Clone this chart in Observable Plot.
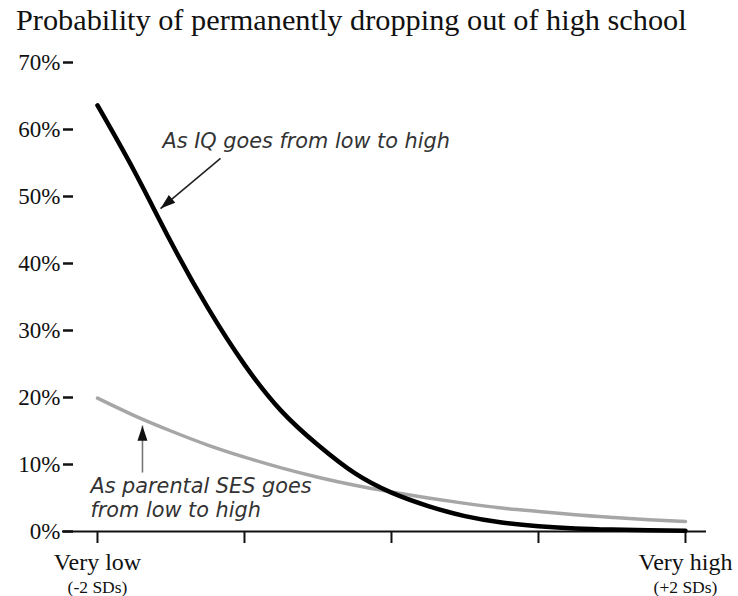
<!DOCTYPE html>
<html><head><meta charset="utf-8">
<script src="https://cdn.jsdelivr.net/npm/d3@7"></script>
<script src="https://cdn.jsdelivr.net/npm/@observablehq/plot@0.6"></script>
<style>
body{margin:0;background:#fff;}
#title{font-family:"Liberation Serif",serif;font-size:30.3px;height:40px;line-height:40px;padding-left:16px;color:#111;white-space:nowrap;}
</style></head><body>
<div id="title">Probability of permanently dropping out of high school</div>
<div id="chart"></div>
<script>
// x positions in standard deviations
const sdPositions = [-2, -1.75, -1.5, -1.25, -1, -0.75, -0.5, -0.25, 0, 0.25, 0.5, 0.75, 1, 1.25, 1.5, 1.75, 2];
// probability (%) of dropping out as IQ goes from low to high
const iqProb = [63.6, 53.8, 43.2, 33.4, 24.9, 18.0, 12.9, 8.7, 5.8, 3.8, 2.3, 1.35, 0.8, 0.45, 0.28, 0.18, 0.12];
// probability (%) of dropping out as parental SES goes from low to high
const sesProb = [19.9, 17.3, 15.0, 12.9, 11.1, 9.5, 8.1, 6.9, 5.9, 5.0, 4.2, 3.5, 3.0, 2.5, 2.1, 1.75, 1.5];

const yTickValues = [0, 10, 20, 30, 40, 50, 60, 70];
const xTickValues = [-2, -1, 0, 1, 2];
const xTickLabels = ["Very low", "", "", "", "Very high"];
const xTickSubLabels = ["(-2 SDs)", "", "", "", "(+2 SDs)"];

const noteTexts = ["As IQ goes from low to high", "As parental SES goes", "from low to high"];
const noteX = [-1.558, -2.048, -2.048];
const noteY = [57.2, 5.8, 2.1];

const arrowFromX = [-1.163, -1.694];
const arrowFromY = [55.7, 8.8];
const arrowToX = [-1.571, -1.694];
const arrowToY = [48.2, 15.8];
const arrowColors = ["#222", "#777"];

const W = 738, H = 556, mL = 62, mR = 32, mT = 22, mB = 65;
const xDomain = [-2.238, 2.143], yDomain = [0, 70];
const pxPerX = (W - mL - mR) / (xDomain[1] - xDomain[0]);
const pxPerY = (H - mT - mB) / (yDomain[1] - yDomain[0]);

const iqData = sdPositions.map((x, i) => ({x, p: iqProb[i]}));
const sesData = sdPositions.map((x, i) => ({x, p: sesProb[i]}));
const notes = noteTexts.map((t, i) => ({t, x: noteX[i], y: noteY[i]}));
const arrows = arrowFromX.map((x1, i) => {
  const dxs = (arrowToX[i] - x1) * pxPerX;
  const dys = -(arrowToY[i] - arrowFromY[i]) * pxPerY;
  return {x1, y1: arrowFromY[i], x2: arrowToX[i], y2: arrowToY[i], c: arrowColors[i],
          angle: Math.atan2(dxs, -dys) * 180 / Math.PI};
});
const labelMap = new Map(xTickValues.map((v, i) => [v, xTickLabels[i]]));
const subMap = new Map(xTickValues.map((v, i) => [v, xTickSubLabels[i]]));

const chart = Plot.plot({
  width: W,
  height: H,
  marginLeft: mL,
  marginRight: mR,
  marginTop: mT,
  marginBottom: mB,
  x: {domain: xDomain},
  y: {domain: yDomain},
  style: {fontFamily: "'Liberation Serif', serif", background: "white", color: "#111", overflow: "visible"},
  marks: [
    Plot.axisY(yTickValues, {anchor: "left", tickFormat: d => d + "%", tickSize: 10, tickPadding: 3, dx: 11, fontSize: 23, strokeWidth: 2.5, label: null}),
    Plot.ruleY([0], {strokeWidth: 2, stroke: "#111"}),
    Plot.axisX(xTickValues, {anchor: "bottom", tickSize: 12, tickPadding: 9, tickFormat: d => labelMap.get(d), fontSize: 24, strokeWidth: 2, label: null}),
    Plot.text(xTickValues, {x: d => d, frameAnchor: "bottom", dy: 49, lineAnchor: "top", text: d => subMap.get(d), fontSize: 17.5, fill: "#111"}),
    Plot.line(sesData, {x: "x", y: "p", stroke: "#a6a6a6", strokeWidth: 3.5, curve: "natural"}),
    Plot.line(iqData, {x: "x", y: "p", stroke: "#000", strokeWidth: 4.5, curve: "natural"}),
    Plot.link(arrows, {x1: "x1", y1: "y1", x2: "x2", y2: "y2", stroke: "c", strokeWidth: 1.6}),
    Plot.vector(arrows, {x: "x2", y: "y2", rotate: "angle", length: 15, r: 5, shape: "spike", anchor: "end", fill: "#111", stroke: "none"}),
    Plot.text(notes, {x: "x", y: "y", text: "t", textAnchor: "start", lineAnchor: "bottom", fontSize: 20.8, fontStyle: "italic", fontFamily: "'DejaVu Sans', sans-serif", fill: "#333"})
  ]
});
document.getElementById("chart").appendChild(chart);
</script>
</body></html>
